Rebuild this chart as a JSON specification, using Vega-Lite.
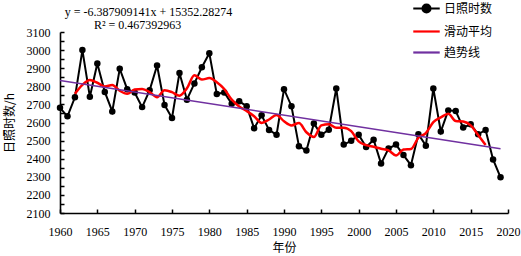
{
  "$schema": "https://vega.github.io/schema/vega-lite/v6.json",
  "autosize": "none",
  "width": 448,
  "height": 181,
  "padding": {"left": 60, "top": 32, "right": 13, "bottom": 43},
  "background": "white",
  "config": {
    "view": {"stroke": null},
    "axis": {
      "labelFont": "Liberation Serif",
      "labelFontSize": 12,
      "labelColor": "black",
      "labelFlush": false,
      "labelOverlap": false,
      "titleFont": "Noto Sans CJK SC",
      "titleFontSize": 12,
      "titleFontWeight": "normal",
      "titleColor": "black",
      "domainColor": "black",
      "domainWidth": 1.6,
      "tickColor": "black",
      "tickWidth": 1.5,
      "grid": false
    }
  },
  "datasets": {
    "obs": [
      {"year": 1960, "hours": 2681}, {"year": 1961, "hours": 2634}, {"year": 1962, "hours": 2739},
      {"year": 1963, "hours": 3000}, {"year": 1964, "hours": 2742}, {"year": 1965, "hours": 2926},
      {"year": 1966, "hours": 2769}, {"year": 1967, "hours": 2661}, {"year": 1968, "hours": 2897},
      {"year": 1969, "hours": 2784}, {"year": 1970, "hours": 2766}, {"year": 1971, "hours": 2685},
      {"year": 1972, "hours": 2778}, {"year": 1973, "hours": 2915}, {"year": 1974, "hours": 2697},
      {"year": 1975, "hours": 2625}, {"year": 1976, "hours": 2874}, {"year": 1977, "hours": 2726},
      {"year": 1978, "hours": 2816}, {"year": 1979, "hours": 2905}, {"year": 1980, "hours": 2982},
      {"year": 1981, "hours": 2757}, {"year": 1982, "hours": 2766}, {"year": 1983, "hours": 2703},
      {"year": 1984, "hours": 2717}, {"year": 1985, "hours": 2690}, {"year": 1986, "hours": 2568},
      {"year": 1987, "hours": 2640}, {"year": 1988, "hours": 2559}, {"year": 1989, "hours": 2532},
      {"year": 1990, "hours": 2784}, {"year": 1991, "hours": 2690}, {"year": 1992, "hours": 2469},
      {"year": 1993, "hours": 2445}, {"year": 1994, "hours": 2595}, {"year": 1995, "hours": 2532},
      {"year": 1996, "hours": 2560}, {"year": 1997, "hours": 2788}, {"year": 1998, "hours": 2478},
      {"year": 1999, "hours": 2499}, {"year": 2000, "hours": 2532}, {"year": 2001, "hours": 2464},
      {"year": 2002, "hours": 2505}, {"year": 2003, "hours": 2373}, {"year": 2004, "hours": 2456},
      {"year": 2005, "hours": 2478}, {"year": 2006, "hours": 2420}, {"year": 2007, "hours": 2364},
      {"year": 2008, "hours": 2535}, {"year": 2009, "hours": 2472}, {"year": 2010, "hours": 2788},
      {"year": 2011, "hours": 2550}, {"year": 2012, "hours": 2667}, {"year": 2013, "hours": 2663},
      {"year": 2014, "hours": 2572}, {"year": 2015, "hours": 2590}, {"year": 2016, "hours": 2535},
      {"year": 2017, "hours": 2559}, {"year": 2018, "hours": 2396}, {"year": 2019, "hours": 2297}
    ],
    "ma": [
      {"year": 1962, "hours": 2759.2}, {"year": 1963, "hours": 2808.2}, {"year": 1964, "hours": 2835.2},
      {"year": 1965, "hours": 2819.6}, {"year": 1966, "hours": 2799.0}, {"year": 1967, "hours": 2807.4},
      {"year": 1968, "hours": 2775.4}, {"year": 1969, "hours": 2758.6}, {"year": 1970, "hours": 2782.0},
      {"year": 1971, "hours": 2785.6}, {"year": 1972, "hours": 2768.2}, {"year": 1973, "hours": 2740.0},
      {"year": 1974, "hours": 2777.8}, {"year": 1975, "hours": 2767.4}, {"year": 1976, "hours": 2747.6},
      {"year": 1977, "hours": 2789.2}, {"year": 1978, "hours": 2860.6}, {"year": 1979, "hours": 2837.2},
      {"year": 1980, "hours": 2845.2}, {"year": 1981, "hours": 2822.6}, {"year": 1982, "hours": 2785.0},
      {"year": 1983, "hours": 2726.6}, {"year": 1984, "hours": 2688.8}, {"year": 1985, "hours": 2663.6},
      {"year": 1986, "hours": 2634.8}, {"year": 1987, "hours": 2597.8}, {"year": 1988, "hours": 2616.6},
      {"year": 1989, "hours": 2641.0}, {"year": 1990, "hours": 2606.8}, {"year": 1991, "hours": 2584.0},
      {"year": 1992, "hours": 2596.6}, {"year": 1993, "hours": 2546.2}, {"year": 1994, "hours": 2520.2},
      {"year": 1995, "hours": 2584.0}, {"year": 1996, "hours": 2590.6}, {"year": 1997, "hours": 2571.4},
      {"year": 1998, "hours": 2571.4}, {"year": 1999, "hours": 2552.2}, {"year": 2000, "hours": 2495.6},
      {"year": 2001, "hours": 2474.6}, {"year": 2002, "hours": 2466.0}, {"year": 2003, "hours": 2455.2},
      {"year": 2004, "hours": 2446.4}, {"year": 2005, "hours": 2418.2}, {"year": 2006, "hours": 2450.6},
      {"year": 2007, "hours": 2453.8}, {"year": 2008, "hours": 2515.8}, {"year": 2009, "hours": 2541.8},
      {"year": 2010, "hours": 2602.4}, {"year": 2011, "hours": 2628.0}, {"year": 2012, "hours": 2648.0},
      {"year": 2013, "hours": 2608.4}, {"year": 2014, "hours": 2605.4}, {"year": 2015, "hours": 2583.8},
      {"year": 2016, "hours": 2530.4}, {"year": 2017, "hours": 2475.4}
    ],
    "trend": [
      {"year": 1960, "hours": 2831.98},
      {"year": 2019, "hours": 2455.09}
    ],
    "equation": [
      {"text": "y = -6.387909141x + 15352.28274"}
    ],
    "rsq": [
      {"text": "R² = 0.467392963"}
    ]
  },
  "layer": [
    {
      "data": {"name": "obs"},
      "mark": {"type": "line", "strokeWidth": 2},
      "encoding": {
        "x": {"field": "year", "type": "quantitative", "title": "年份",
          "scale": {"domain": [1960, 2020], "nice": false, "zero": false},
          "axis": {"values": [1960, 1965, 1970, 1975, 1980, 1985, 1990, 1995, 2000, 2005, 2010, 2015, 2020], "format": "d", "tickSize": -4, "labelPadding": 17, "titlePadding": 5}},
        "y": {"field": "hours", "type": "quantitative", "title": "日照时数/h",
          "scale": {"domain": [2100, 3100], "nice": false, "zero": false},
          "axis": {"values": [2100, 2150, 2200, 2250, 2300, 2350, 2400, 2450, 2500, 2550, 2600, 2650, 2700, 2750, 2800, 2850, 2900, 2950, 3000, 3050, 3100], "labelExpr": "datum.value % 100 === 0 ? format(datum.value, 'd') : ''", "tickSize": -4, "labelPadding": 14, "titlePadding": 10}},
        "color": {
          "datum": "日照时数",
          "type": "nominal",
          "scale": {"domain": ["日照时数", "滑动平均", "趋势线"], "range": ["black", "#ff0000", "#7030a0"]},
          "legend": {
            "title": null,
            "orient": "none",
            "legendX": 352,
            "legendY": -38,
            "symbolType": "stroke",
            "symbolSize": 700,
            "symbolStrokeWidth": 2.2,
            "labelFont": "Noto Sans CJK SC",
            "labelFontSize": 12,
            "labelColor": "black",
            "labelOffset": 3,
            "rowPadding": -1.5,
            "encode": {
              "symbols": {
                "update": {
                  "shape": [
                    {"test": "datum.value === '日照时数'", "value": "M-1,0H1M0.3,0A0.3,0.3,0,1,1,-0.3,0A0.3,0.3,0,1,1,0.3,0Z"},
                    {"value": "stroke"}
                  ],
                  "fill": [
                    {"test": "datum.value === '日照时数'", "value": "black"},
                    {"value": "transparent"}
                  ]
                }
              }
            }
          }
        }
      }
    },
    {
      "data": {"name": "obs"},
      "mark": {"type": "circle", "size": 42, "opacity": 1, "color": "black"},
      "encoding": {
        "x": {"field": "year", "type": "quantitative", "title": "年份",
          "scale": {"domain": [1960, 2020], "nice": false, "zero": false},
          "axis": {"values": [1960, 1965, 1970, 1975, 1980, 1985, 1990, 1995, 2000, 2005, 2010, 2015, 2020], "format": "d", "tickSize": -4, "labelPadding": 17, "titlePadding": 5}},
        "y": {"field": "hours", "type": "quantitative", "title": "日照时数/h",
          "scale": {"domain": [2100, 3100], "nice": false, "zero": false},
          "axis": {"values": [2100, 2150, 2200, 2250, 2300, 2350, 2400, 2450, 2500, 2550, 2600, 2650, 2700, 2750, 2800, 2850, 2900, 2950, 3000, 3050, 3100], "labelExpr": "datum.value % 100 === 0 ? format(datum.value, 'd') : ''", "tickSize": -4, "labelPadding": 14, "titlePadding": 10}}
      }
    },
    {
      "data": {"name": "ma"},
      "mark": {"type": "line", "strokeWidth": 2.5, "interpolate": "monotone"},
      "encoding": {
        "x": {"field": "year", "type": "quantitative", "title": "年份",
          "scale": {"domain": [1960, 2020], "nice": false, "zero": false},
          "axis": {"values": [1960, 1965, 1970, 1975, 1980, 1985, 1990, 1995, 2000, 2005, 2010, 2015, 2020], "format": "d", "tickSize": -4, "labelPadding": 17, "titlePadding": 5}},
        "y": {"field": "hours", "type": "quantitative", "title": "日照时数/h",
          "scale": {"domain": [2100, 3100], "nice": false, "zero": false},
          "axis": {"values": [2100, 2150, 2200, 2250, 2300, 2350, 2400, 2450, 2500, 2550, 2600, 2650, 2700, 2750, 2800, 2850, 2900, 2950, 3000, 3050, 3100], "labelExpr": "datum.value % 100 === 0 ? format(datum.value, 'd') : ''", "tickSize": -4, "labelPadding": 14, "titlePadding": 10}},
        "color": {"datum": "滑动平均", "type": "nominal"}
      }
    },
    {
      "data": {"name": "trend"},
      "mark": {"type": "line", "strokeWidth": 1.5},
      "encoding": {
        "x": {"field": "year", "type": "quantitative", "title": "年份",
          "scale": {"domain": [1960, 2020], "nice": false, "zero": false},
          "axis": {"values": [1960, 1965, 1970, 1975, 1980, 1985, 1990, 1995, 2000, 2005, 2010, 2015, 2020], "format": "d", "tickSize": -4, "labelPadding": 17, "titlePadding": 5}},
        "y": {"field": "hours", "type": "quantitative", "title": "日照时数/h",
          "scale": {"domain": [2100, 3100], "nice": false, "zero": false},
          "axis": {"values": [2100, 2150, 2200, 2250, 2300, 2350, 2400, 2450, 2500, 2550, 2600, 2650, 2700, 2750, 2800, 2850, 2900, 2950, 3000, 3050, 3100], "labelExpr": "datum.value % 100 === 0 ? format(datum.value, 'd') : ''", "tickSize": -4, "labelPadding": 14, "titlePadding": 10}},
        "color": {"datum": "趋势线", "type": "nominal"}
      }
    },
    {
      "data": {"name": "equation"},
      "mark": {"type": "text", "font": "Liberation Serif", "fontSize": 12, "color": "black", "align": "center", "baseline": "middle"},
      "encoding": {
        "x": {"datum": 1971.85, "type": "quantitative", "title": "年份",
          "scale": {"domain": [1960, 2020], "nice": false, "zero": false},
          "axis": {"values": [1960, 1965, 1970, 1975, 1980, 1985, 1990, 1995, 2000, 2005, 2010, 2015, 2020], "format": "d", "tickSize": -4, "labelPadding": 17, "titlePadding": 5}},
        "y": {"datum": 3208, "type": "quantitative", "title": "日照时数/h",
          "scale": {"domain": [2100, 3100], "nice": false, "zero": false},
          "axis": {"values": [2100, 2150, 2200, 2250, 2300, 2350, 2400, 2450, 2500, 2550, 2600, 2650, 2700, 2750, 2800, 2850, 2900, 2950, 3000, 3050, 3100], "labelExpr": "datum.value % 100 === 0 ? format(datum.value, 'd') : ''", "tickSize": -4, "labelPadding": 14, "titlePadding": 10}},
        "text": {"field": "text", "type": "nominal"}
      }
    },
    {
      "data": {"name": "rsq"},
      "mark": {"type": "text", "font": "Liberation Serif", "fontSize": 12, "color": "black", "align": "center", "baseline": "middle"},
      "encoding": {
        "x": {"datum": 1970.4, "type": "quantitative", "title": "年份",
          "scale": {"domain": [1960, 2020], "nice": false, "zero": false},
          "axis": {"values": [1960, 1965, 1970, 1975, 1980, 1985, 1990, 1995, 2000, 2005, 2010, 2015, 2020], "format": "d", "tickSize": -4, "labelPadding": 17, "titlePadding": 5}},
        "y": {"datum": 3138, "type": "quantitative", "title": "日照时数/h",
          "scale": {"domain": [2100, 3100], "nice": false, "zero": false},
          "axis": {"values": [2100, 2150, 2200, 2250, 2300, 2350, 2400, 2450, 2500, 2550, 2600, 2650, 2700, 2750, 2800, 2850, 2900, 2950, 3000, 3050, 3100], "labelExpr": "datum.value % 100 === 0 ? format(datum.value, 'd') : ''", "tickSize": -4, "labelPadding": 14, "titlePadding": 10}},
        "text": {"field": "text", "type": "nominal"}
      }
    }
  ]
}
